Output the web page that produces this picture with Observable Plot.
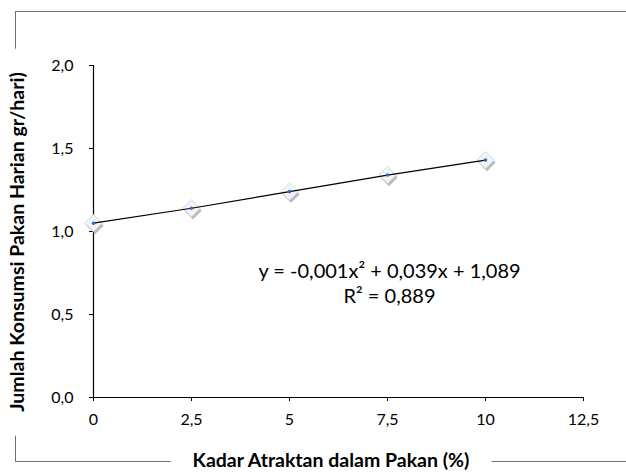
<!DOCTYPE html>
<html>
<head>
<meta charset="utf-8">
<script src="https://cdn.jsdelivr.net/npm/d3@7"></script>
<script src="https://cdn.jsdelivr.net/npm/@observablehq/plot@0.6"></script>
<style>
  html, body { margin: 0; padding: 0; background: #fff; }
  #wrap { position: relative; width: 626px; height: 473px; overflow: hidden; font-family: Lato, "Open Sans", sans-serif; }
  #frame { position: absolute; left: 15px; top: 11px; width: 700px; height: 451px; border: 1.5px solid #707070; box-sizing: border-box; }
  #chart { position: absolute; left: 0; top: 0; }
  .title { position: absolute; background: #fff; font-weight: bold; font-size: 19.5px; color: #000; white-space: nowrap; line-height: 20px; }
  #xtitle { left: 331px; top: 460px; transform: translate(-50%, -50%); padding: 0 22px; }
  #ytitle { left: 17px; top: 242px; transform: translate(-50%, -50%) rotate(-90deg); padding: 0 24px; }
</style>
</head>
<body>
<div id="wrap">
  <div id="frame"></div>
  <div id="chart"></div>
  <div class="title" id="xtitle"></div>
  <div class="title" id="ytitle"></div>
</div>
<script>
// Data
const kadar = [0, 2.5, 5, 7.5, 10];                 // Kadar Atraktan dalam Pakan (%)
const konsumsi = [1.05, 1.14, 1.24, 1.34, 1.43];    // Jumlah Konsumsi Pakan Harian (gr/hari)
const xTicks = [0, 2.5, 5, 7.5, 10, 12.5];
const yTicks = [0, 0.5, 1.0, 1.5, 2.0];
const xTitle = "Kadar Atraktan dalam Pakan (%)";
const yTitle = "Jumlah Konsumsi Pakan Harian gr/hari)";
const equationLines = ["y = -0,001x² + 0,039x + 1,089", "R² = 0,889"];

const data = kadar.map((k, i) => ({x: k, y: konsumsi[i]}));
const commaX = d => String(d).replace(".", ",");
const commaY = d => d.toFixed(1).replace(".", ",");

document.getElementById("xtitle").textContent = xTitle;
document.getElementById("ytitle").textContent = yTitle;

const chart = Plot.plot({
  width: 626,
  height: 473,
  marginLeft: 93,
  marginRight: 43,
  marginTop: 65,
  marginBottom: 76,
  style: {background: "none", fontFamily: "Lato, 'Open Sans', sans-serif", fontSize: "16px", color: "#000", overflow: "visible"},
  x: {domain: [0, 12.5]},
  y: {domain: [0, 2]},
  marks: [
    Plot.axisX({ticks: xTicks, tickFormat: commaX, tickSize: 4, tickPadding: 12, label: null, fontSize: 16, stroke: "#000"}),
    Plot.axisY({ticks: yTicks, tickFormat: commaY, tickSize: 4, tickPadding: 16, label: null, fontSize: 16, stroke: "#000"}),
    Plot.ruleY([0], {stroke: "#000", strokeWidth: 1.2}),
    Plot.ruleX([0], {stroke: "#000", strokeWidth: 1.2}),
    Plot.dot(data, {x: "x", y: "y", symbol: "diamond2", r: 7.8, fill: "#8a8a8a", fillOpacity: 0.6, stroke: "none", dx: 1.5, dy: 2.5}),
    Plot.dot(data, {x: "x", y: "y", symbol: "diamond2", r: 7.8, fill: "#f2f4f7", stroke: "#d4d8de", strokeWidth: 1}),
    Plot.line(data, {x: "x", y: "y", stroke: "#000", strokeWidth: 1.2}),
    Plot.dot(data, {x: "x", y: "y", r: 1.8, fill: "#2f6ccc", stroke: "none"}),
    Plot.text([equationLines.join("\n")], {frameAnchor: "middle", dx: 51, dy: 51, text: d => d, fontSize: 20, lineHeight: 1.25, textAnchor: "middle", fill: "#000"})
  ]
});
document.getElementById("chart").appendChild(chart);
</script>
</body>
</html>
